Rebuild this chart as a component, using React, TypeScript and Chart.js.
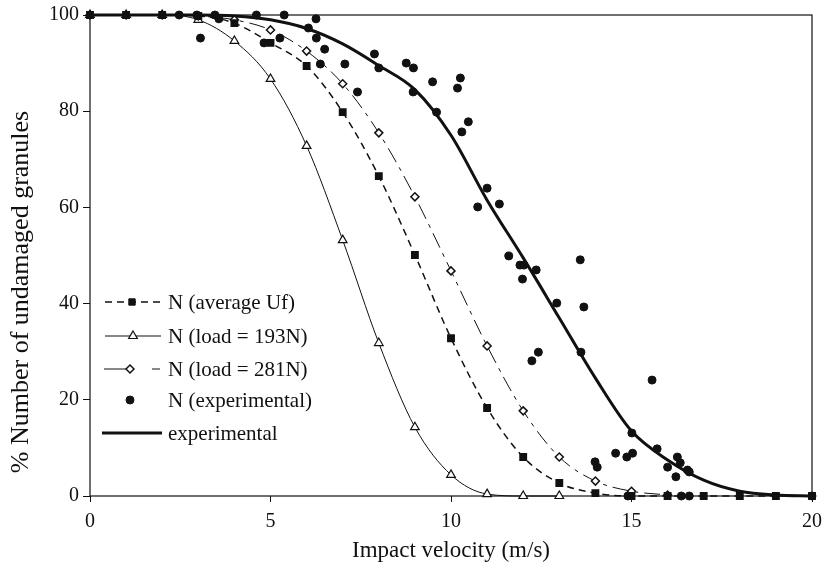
import React, { useEffect, useRef } from 'react';
import { Chart, registerables } from 'chart.js';
import { drawPoint } from 'chart.js/helpers';

Chart.register(...registerables);

// Impact velocity (m/s) at which the model curves are evaluated
const velocities = [0, 1, 2, 3, 4, 5, 6, 7, 8, 9, 10, 11, 12, 13, 14, 15, 16, 17, 18, 19, 20];

// N (average Uf)
const avgUf = [100, 100, 100, 99.8, 98.3, 94.2, 89.4, 79.8, 66.5, 50.1, 32.8, 18.3, 8.1, 2.7, 0.6, 0, 0, 0, 0, 0, 0];
// N (load = 193N)
const load193 = [100, 100, 100, 99, 94.6, 86.7, 72.8, 53.2, 31.8, 14.3, 4.4, 0.4, 0, 0];
// N (load = 281N)
const load281 = [100, 100, 100, 99.8, 99, 96.9, 92.5, 85.7, 75.5, 62.2, 46.8, 31.2, 17.7, 8.1, 3.1, 1.0, 0.2];
// experimental fitted curve
const expCurve = [100, 100, 100, 100, 99.8, 99, 97.2, 94, 89.5, 84.5, 75, 61.5, 49.5, 37, 24.5, 13.5, 7.5, 3.3, 1, 0.2, 0];

// N (experimental) measured points
const expPtX = [2.47, 2.96, 3.46, 3.57, 3.06, 4.61, 5.38, 6.26, 6.05, 6.27, 5.26, 4.82, 6.5, 6.38, 7.06, 7.88, 8.0, 8.76, 8.96, 7.41, 8.95, 9.49, 10.26, 10.18, 9.6, 10.48, 10.3, 11.0, 10.74, 11.34, 11.6, 11.91, 12.02, 12.36, 11.98, 13.58, 12.93, 13.68, 13.6, 12.42, 12.24, 15.57, 15.01, 13.99, 14.05, 14.56, 14.87, 15.03, 15.71, 16.27, 16.0, 16.23, 16.35, 16.55, 16.6, 14.9, 16.38, 16.6, 20];
const expPtY = [100, 100, 100, 99.2, 95.2, 100, 100, 99.2, 97.3, 95.2, 95.2, 94.2, 92.9, 89.8, 89.8, 91.9, 89, 90, 89, 84, 84, 86.1, 86.9, 84.8, 79.8, 77.8, 75.7, 64, 60.1, 60.7, 49.9, 48, 48, 47, 45.1, 49.1, 40.1, 39.3, 29.9, 29.9, 28.1, 24.1, 13.1, 7.1, 6, 8.9, 8.1, 8.9, 9.8, 8.1, 6, 4, 6.9, 5.4, 5, 0, 0, 0, 0];

const xTicks = [0, 5, 10, 15, 20];
const yTicks = [0, 20, 40, 60, 80, 100];

const xTitle = 'Impact velocity (m/s)';
const yTitle = '% Number of undamaged granules';
const legendLabels = ['N (average Uf)', 'N (load = 193N)', 'N (load = 281N)', 'N (experimental)', 'experimental'];

const FONT = "'Liberation Serif', 'Times New Roman', serif";
const INK = '#111';

const pairs = (xs: number[], ys: number[]) => ys.map((y, i) => ({ x: xs[i], y }));

const boxPlugin = {
  id: 'box',
  beforeDatasetsDraw(chart: any) {
    const { ctx, chartArea: a } = chart;
    ctx.save();
    ctx.strokeStyle = INK;
    ctx.lineWidth = 1.2;
    ctx.strokeRect(a.left, a.top, a.right - a.left, a.bottom - a.top);
    ctx.restore();
  },
};

const yTitlePlugin = {
  id: 'yTitle',
  afterDraw(chart: any) {
    const ctx = chart.ctx as CanvasRenderingContext2D;
    ctx.save();
    ctx.translate(21, 292);
    ctx.rotate(-Math.PI / 2);
    ctx.fillStyle = INK;
    ctx.font = `26px ${FONT}`;
    ctx.textAlign = 'center';
    ctx.textBaseline = 'middle';
    ctx.fillText(yTitle, 0, 0);
    ctx.restore();
  },
};

const legendPlugin = {
  id: 'customLegend',
  afterDraw(chart: any) {
    const ctx = chart.ctx as CanvasRenderingContext2D;
    const rows = [302, 336, 369, 400, 433];
    ctx.save();
    ctx.strokeStyle = INK;
    ctx.fillStyle = INK;
    const line = (x1: number, x2: number, y: number, w: number, dash: number[]) => {
      ctx.beginPath();
      ctx.setLineDash(dash);
      ctx.lineWidth = w;
      ctx.moveTo(x1, y);
      ctx.lineTo(x2, y);
      ctx.stroke();
      ctx.setLineDash([]);
    };
    const marker = (style: string, r: number, x: number, y: number, fill: string, bw: number) => {
      ctx.fillStyle = fill;
      ctx.strokeStyle = INK;
      ctx.lineWidth = bw;
      drawPoint(ctx, { pointStyle: style as any, radius: r, rotation: 0, borderWidth: bw }, x, y);
    };
    line(105, 161, rows[0], 1.5, [7, 5]);
    marker('rect', 4.5, 132, rows[0], INK, 1);
    line(105, 161, rows[1], 1, []);
    marker('triangle', 5, 133, rows[1], '#fff', 1.2);
    line(104, 128, rows[2], 1, []);
    line(152, 160, rows[2], 1, []);
    marker('rectRot', 4, 130, rows[2], '#fff', 1.5);
    marker('circle', 4, 130, rows[3], INK, 1);
    line(102, 162, rows[4], 3, []);

    ctx.fillStyle = INK;
    ctx.font = `21px ${FONT}`;
    ctx.textAlign = 'left';
    ctx.textBaseline = 'middle';
    legendLabels.forEach((t, i) => ctx.fillText(t, 168, rows[i] + 1));
    ctx.restore();
  },
};

export default function App() {
  const ref = useRef<HTMLCanvasElement | null>(null);
  useEffect(() => {
    if (!ref.current) return;
    const chart = new Chart(ref.current, {
      type: 'line',
      data: {
        datasets: [
          {
            label: legendLabels[0],
            data: pairs(velocities, avgUf),
            borderColor: INK,
            borderWidth: 1.5,
            borderDash: [7, 5],
            pointStyle: 'rect',
            pointRadius: 4.5,
            pointBackgroundColor: INK,
            pointBorderColor: INK,
            cubicInterpolationMode: 'monotone',
            clip: false as any,
          },
          {
            label: legendLabels[2],
            data: pairs(velocities, load281),
            borderColor: INK,
            borderWidth: 1,
            borderDash: [16, 6, 4, 6],
            pointStyle: 'rectRot',
            pointRadius: 4,
            pointBackgroundColor: '#fff',
            pointBorderColor: INK,
            pointBorderWidth: 1.5,
            cubicInterpolationMode: 'monotone',
            clip: false as any,
          },
          {
            label: legendLabels[1],
            data: pairs(velocities, load193),
            borderColor: INK,
            borderWidth: 1,
            pointStyle: 'triangle',
            pointRadius: 5,
            pointBackgroundColor: '#fff',
            pointBorderColor: INK,
            pointBorderWidth: 1.2,
            cubicInterpolationMode: 'monotone',
            clip: false as any,
          },
          {
            label: legendLabels[3],
            data: pairs(expPtX, expPtY),
            showLine: false,
            pointStyle: 'circle',
            pointRadius: 4,
            pointBackgroundColor: INK,
            pointBorderColor: INK,
            clip: false as any,
          },
          {
            label: legendLabels[4],
            data: pairs(velocities, expCurve),
            borderColor: INK,
            borderWidth: 3,
            pointRadius: 0,
            cubicInterpolationMode: 'monotone',
            clip: false as any,
          },
        ],
      },
      options: {
        animation: false,
        responsive: true,
        maintainAspectRatio: false,
        layout: { padding: { left: 0, right: 11, top: 15, bottom: 0 } },
        plugins: { legend: { display: false }, tooltip: { enabled: false } },
        scales: {
          x: {
            type: 'linear',
            min: 0,
            max: 20,
            afterFit: (s: any) => { s.height = 77; s.paddingRight = 0; s.paddingLeft = 0; },
            afterBuildTicks: (s: any) => { s.ticks = xTicks.map((v) => ({ value: v })); },
            border: { display: false },
            grid: { display: true, drawOnChartArea: false, drawTicks: true, tickLength: 6, color: INK, lineWidth: 1 },
            ticks: { color: INK, font: { family: FONT, size: 20 }, padding: 8, maxRotation: 0 },
            title: { display: true, text: xTitle, color: INK, font: { family: FONT, size: 23 }, padding: { top: 0, bottom: 8 } },
          },
          y: {
            type: 'linear',
            min: 0,
            max: 100,
            afterFit: (s: any) => { s.width = 90; s.paddingTop = 0; s.paddingBottom = 0; },
            afterBuildTicks: (s: any) => { s.ticks = yTicks.map((v) => ({ value: v })); },
            border: { display: false },
            grid: { display: true, drawOnChartArea: false, drawTicks: true, tickLength: 7, color: INK, lineWidth: 1 },
            ticks: { color: INK, font: { family: FONT, size: 20 }, padding: 4 },
            title: { display: false },
          },
        },
      },
      plugins: [boxPlugin, legendPlugin, yTitlePlugin],
    } as any);
    return () => chart.destroy();
  }, []);
  return (
    <div style={{ position: 'absolute', left: 0, top: 0, width: 823, height: 573, background: '#fff' }}>
      <canvas ref={ref} />
    </div>
  );
}
